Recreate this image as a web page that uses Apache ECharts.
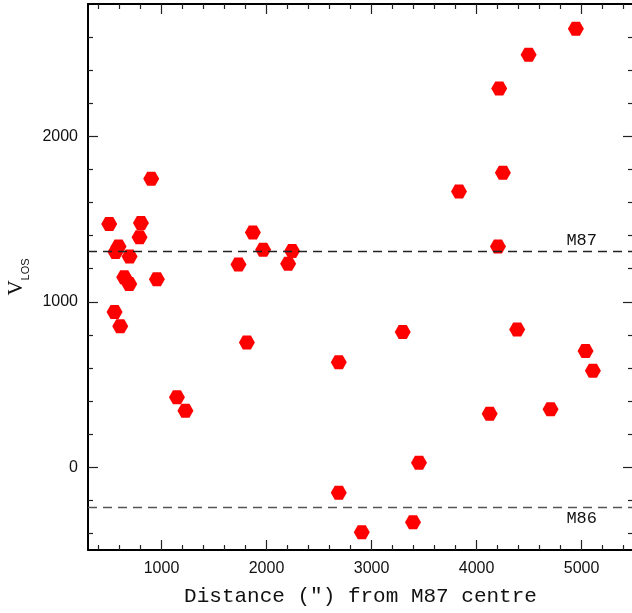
<!DOCTYPE html>
<html>
<head>
<meta charset="utf-8">
<script src="https://cdn.jsdelivr.net/npm/echarts@6/dist/echarts.min.js"></script>
<style>
html,body{margin:0;padding:0;background:#fff;}
#c{width:632px;height:613px;}
</style>
</head>
<body>
<div id="c"></div>
<script>
// Distance (arcsec) from M87 centre
const distance = [902, 502, 804, 791, 591, 562, 696, 645, 693, 956, 553, 607,
  1870, 1968, 1733, 2244, 2206, 1813, 1147, 1228,
  3297, 2688, 3452, 2688, 3395, 2907,
  4946, 4496, 4216, 4251, 3833, 4204, 4387, 5038, 5108, 4125, 4705];
// Line-of-sight velocity
const vlos = [1744, 1470, 1476, 1391, 1335, 1301, 1274, 1149, 1107, 1137, 939, 853,
  1419, 1315, 1226, 1307, 1230, 754, 423, 341,
  818, 635, 28, -154, -333, -393,
  2650, 2494, 2290, 1780, 1667, 1335, 832, 702, 584, 324, 351];

const refNames = ['M87', 'M86'];
const refVel = [1307, -244];

const xMajor = [1000, 2000, 3000, 4000, 5000];
const xMinor = [400, 600, 800, 1200, 1400, 1600, 1800, 2200, 2400, 2600, 2800,
  3200, 3400, 3600, 3800, 4200, 4400, 4600, 4800, 5200, 5400];
const yMajor = [0, 1000, 2000];
const yMinor = [-400, -200, 200, 400, 600, 800, 1200, 1400, 1600, 1800, 2200, 2400, 2600];

const X_MIN = 300, X_MAX = 5490, Y_MIN = -500, Y_MAX = 2800;

const chart = echarts.init(document.getElementById('c'), null, {renderer: 'canvas'});

const lineStyle = {color: '#000', width: 2};
const tickStyle = {color: '#222', width: 1.2};
const plain = v => String(v);

function xAx(pos, major, withLine, withLabel) {
  return {
    type: 'value', position: pos, min: X_MIN, max: X_MAX,
    splitLine: {show: false},
    axisLine: {show: withLine, onZero: false, lineStyle: lineStyle},
    axisTick: {show: true, inside: true, length: major ? 10 : 5,
      customValues: major ? xMajor : xMinor, lineStyle: tickStyle},
    axisLabel: withLabel ? {show: true, customValues: xMajor, margin: 11, formatter: plain,
      fontFamily: 'Liberation Sans', fontSize: 16, color: '#111'} : {show: false},
    name: withLabel ? 'Distance (\u2033) from M87 centre' : '',
    nameLocation: 'middle', nameGap: 36,
    nameTextStyle: {fontFamily: 'Liberation Mono', fontSize: 21, color: '#111'}
  };
}
function yAx(pos, major, withLine, withLabel) {
  return {
    type: 'value', position: pos, min: Y_MIN, max: Y_MAX,
    splitLine: {show: false},
    axisLine: {show: withLine, onZero: false, lineStyle: lineStyle},
    axisTick: {show: true, inside: true, length: major ? 10 : 5,
      customValues: major ? yMajor : yMinor, lineStyle: tickStyle},
    axisLabel: withLabel ? {show: true, customValues: yMajor, margin: 10, formatter: plain,
      fontFamily: 'Liberation Sans', fontSize: 16, color: '#111'} : {show: false},
    name: withLabel ? '{v|V}{s|LOS}' : '',
    nameLocation: 'middle', nameGap: 55, nameRotate: 90,
    nameTextStyle: {
      rich: {
        v: {fontFamily: 'Liberation Serif', fontSize: 21, color: '#111', padding: [0, 0, 5, 0], verticalAlign: 'bottom'},
        s: {fontFamily: 'Liberation Sans', fontSize: 11, color: '#111', verticalAlign: 'bottom'}
      }
    }
  };
}

const hex = 'path://M0,7 L4,0 L12,0 L16,7 L12,14 L4,14 Z';

const option = {
  backgroundColor: '#fff',
  animation: false,
  grid: {left: 88, top: 4, width: 545, height: 546, containLabel: false, outerBoundsMode: 'none'},
  xAxis: [
    xAx('bottom', false, true, true),
    xAx('bottom', true, false, false),
    xAx('top', false, true, false),
    xAx('top', true, false, false)
  ],
  yAxis: [
    yAx('left', false, true, true),
    yAx('left', true, false, false),
    yAx('right', false, true, false),
    yAx('right', true, false, false)
  ],
  series: [{
    type: 'scatter',
    xAxisIndex: 0, yAxisIndex: 0,
    symbol: hex,
    symbolSize: [16, 14],
    itemStyle: {color: '#ff0000', opacity: 1},
    data: distance.map((d, i) => [d, vlos[i]]),
    markLine: {
      silent: true,
      symbol: 'none',
      animation: false,
      data: refVel.map((v, i) => ({
        yAxis: v,
        lineStyle: {color: i === 0 ? '#222' : '#555', type: [9, 6], width: 1.3},
        label: {
          show: true,
          formatter: refNames[i],
          position: i === 0 ? 'insideEndTop' : 'insideEndBottom',
          distance: [36, 2],
          fontFamily: 'Liberation Mono', fontSize: 17, color: '#111'
        }
      }))
    }
  }]
};
chart.setOption(option);
</script>
</body>
</html>
